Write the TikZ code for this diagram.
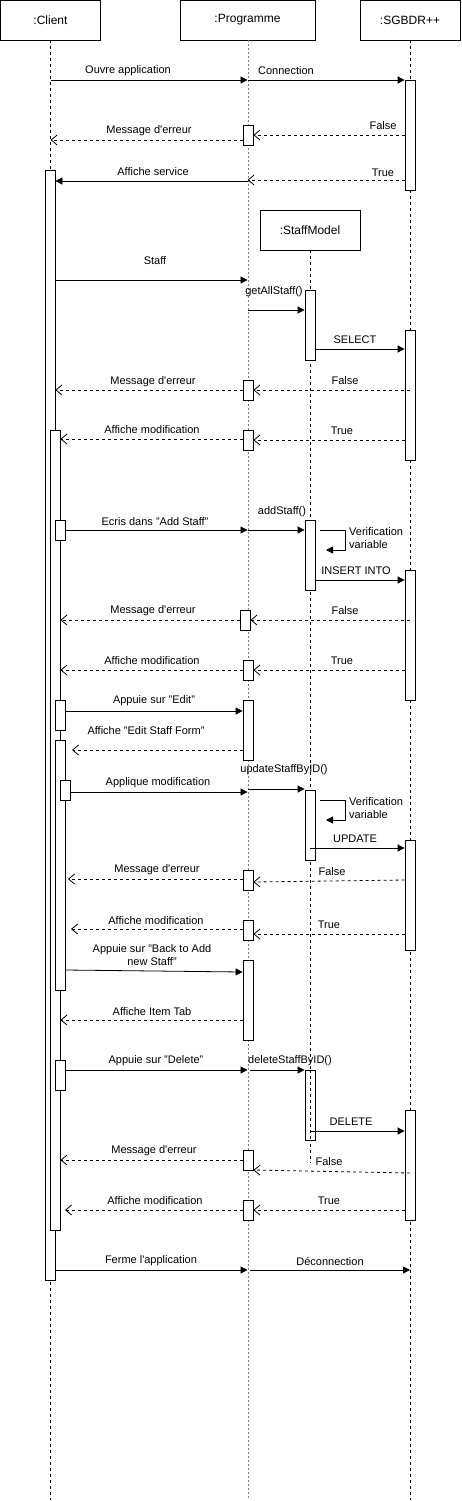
\documentclass[tikz,border=0pt]{standalone}
\usepackage{fontspec}
\setmainfont{Liberation Sans}
\usetikzlibrary{arrows.meta}
\newcommand{\myap}{\textquotesingle}
\begin{document}
\begin{tikzpicture}[x=1pt,y=-1pt,
 font=\fontsize{11}{13}\selectfont,
 actor/.style={draw, line width=0.8pt, fill=white, minimum width=100pt, minimum height=40pt, inner sep=0pt, font=\fontsize{12}{14}\selectfont},
 life/.style={line width=0.8pt, dash pattern=on 3pt off 3pt},
 plife/.style={line width=1pt, draw=gray, dash pattern=on 2pt off 2pt},
 act/.style={draw, line width=0.8pt, fill=white, minimum width=10pt, inner sep=0pt, anchor=north},
 msg/.style={line width=0.8pt, -{Triangle[length=7pt,width=7pt]}},
 ret/.style={line width=0.8pt, dash pattern=on 3pt off 3pt, -{Straight Barb[length=6pt,width=10pt]}},
 lbl/.style={inner sep=0pt},
]
\useasboundingbox (0,0) rectangle (461,1501);
\fill[white] (0,0) rectangle (461,1501);

% header boxes
\node[actor] (client) at (50.5,20) {:Client};
\node[actor, minimum width=135pt] (prog) at (247.5,20) {:Programme};
\node[actor] (sgbd) at (410,20) {:SGBDR++};
\node[actor] (staff) at (310,230) {:StaffModel};

% lifelines
\coordinate (clientend) at (50,1500);
\coordinate (progend) at (248,1500);
\coordinate (sgbdend) at (410,1500);
\coordinate (staffend) at (310,1163);
\draw[life] (client.south -| 50,0) -- (clientend);
\draw[plife] (prog.south -| 248,0) -- (progend);
\draw[life] (sgbd.south) -- (sgbdend);
\draw[life] (staff.south) -- (staffend);

% activations: client
\node[act, minimum height=1110pt] (c0) at (50,170) {};
\node[act, minimum height=800pt] (c1) at (55,430) {};
\node[act, minimum height=20pt] (c2) at (60,520) {};
\node[act, minimum height=30pt] (c3) at (60,700) {};
\node[act, minimum height=250pt] (c4) at (60,740) {};
\node[act, minimum height=20pt] (c5) at (65,780) {};
\node[act, minimum height=30pt] (c6) at (60,1060) {};

% activations: programme
\node[act, minimum height=20pt] (p1) at (248,125) {};
\node[act, minimum height=20pt] (p2) at (248,380) {};
\node[act, minimum height=20pt] (p3) at (248,430) {};
\node[act, minimum height=20pt] (p4) at (245,610) {};
\node[act, minimum height=20pt] (p5) at (248,660) {};
\node[act, minimum height=60pt] (p6) at (248,700) {};
\node[act, minimum height=20pt] (p7) at (248,870) {};
\node[act, minimum height=20pt] (p8) at (248,920) {};
\node[act, minimum height=80pt] (p9) at (248,960) {};
\node[act, minimum height=20pt] (p10) at (248,1150) {};
\node[act, minimum height=20pt] (p11) at (248,1200) {};

% activations: staff model
\node[act, minimum height=70pt] (s1) at (310,290) {};
\node[act, minimum height=70pt] (s2) at (310,520) {};
\node[act, minimum height=70pt] (s3) at (310,790) {};
\node[act, minimum height=70pt] (s4) at (310,1070) {};
\draw[life] (s4.north) -- (s4.south);

% activations: SGBDR
\node[act, minimum height=110pt] (d1) at (410,80) {};
\node[act, minimum height=130pt] (d2) at (410,330) {};
\node[act, minimum height=130pt] (d3) at (410,570) {};
\node[act, minimum height=110pt] (d4) at (410,840) {};
\node[act, minimum height=110pt] (d5) at (410,1110) {};

% messages
\draw[msg] (client |- 0,80) -- (prog |- 0,80);
\node[lbl] (l1) at (128,71) {Ouvre application};
\draw[msg] (prog |- 0,80) -- (d1.west |- 0,80);
\node[lbl] (l2) at (286,71) {Connection};

\draw[ret] (d1.west |- 0,135) -- (p1.east |- 0,135);
\node[lbl] (l3) at (383,126) {False};
\draw[ret] (p1.west |- 0,140) -- (client |- 0,140);
\node[lbl] (l4) at (149,131) {Message d\myap erreur};
\draw[ret] (d1.west |- 0,180) -- (prog |- 0,180);
\node[lbl] (l5) at (383,173) {True};
\draw[msg] (prog |- 0,181) -- (c0.east |- 0,181);
\node[lbl] (l6) at (153,172) {Affiche service};

\draw[msg] (c0.east |- 0,280) -- (prog |- 0,280);
\node[lbl] (l7) at (155,261) {Staff};
\draw[msg] (prog |- 0,310) -- (s1.west |- 0,310);
\node[lbl] (l8) at (274,292) {getAllStaff()};
\draw[msg] (s1.east |- 0,349) -- (d2.west |- 0,349);
\node[lbl] (l9) at (355,340) {SELECT};
\draw[ret] (sgbd |- 0,390) -- (p2.east |- 0,390);
\node[lbl] (l10) at (345,381) {False};
\draw[ret] (p2.west |- 0,390) -- (c0.east |- 0,390);
\node[lbl] (l11) at (153,382) {Message d\myap erreur};
\draw[ret] (d2.west |- 0,440) -- (p3.east |- 0,440);
\node[lbl] (l12) at (342,431) {True};
\draw[ret] (p3.west |- 0,439) -- (c1.east |- 0,439);
\node[lbl] (l13) at (152,430) {Affiche modification};

\draw[msg] (c2.east |- 0,530) -- (prog |- 0,530);
\node[lbl] (l14) at (155,522) {Ecris dans "Add Staff"};
\draw[msg] (prog |- 0,530) -- (s2.west |- 0,530);
\node[lbl] (l15) at (282,512) {addStaff()};
\coordinate (v1a) at (320,530);
\coordinate (v1b) at (326,550);
\draw[msg] (v1a) -- (345,530) -- (345,550) -- (v1b);
\node[lbl, anchor=west, align=left] (l16) at (349,538.5) {Verification\\variable};
\draw[msg] (s2.east |- 0,580) -- (d3.west |- 0,580);
\node[lbl] (l17) at (356,571) {INSERT INTO};
\draw[ret] (sgbd |- 0,620) -- (p4.east |- 0,620);
\node[lbl] (l18) at (345,611) {False};
\draw[ret] (p4.west |- 0,620) -- (c1.east |- 0,620);
\node[lbl] (l19) at (153,611) {Message d\myap erreur};
\draw[ret] (d3.west |- 0,670) -- (p5.east |- 0,670);
\node[lbl] (l20) at (342,661) {True};
\draw[ret] (p5.west |- 0,670) -- (c1.east |- 0,670);
\node[lbl] (l21) at (152,661) {Affiche modification};

\draw[msg] (c3.east |- 0,711) -- (p6.west |- 0,711);
\node[lbl] (l22) at (154,701) {Appuie sur "Edit"};
\draw[ret] (p6.west |- 0,750) -- (72,750);
\node[lbl] (l23) at (146,731) {Affiche "Edit Staff Form"};
\draw[msg] (c5.east |- 0,792) -- (prog |- 0,792);
\node[lbl] (l24) at (158,783) {Applique modification};
\draw[msg] (prog |- 0,789) -- (s3.west |- 0,789);
\node[lbl] (l25) at (284,770) {updateStaffByID()};
\coordinate (v2a) at (320,800);
\coordinate (v2b) at (326,820);
\draw[msg] (v2a) -- (345,800) -- (345,820) -- (v2b);
\node[lbl, anchor=west, align=left] (l26) at (349,808.5) {Verification\\variable};
\draw[msg] (staff |- 0,848) -- (d4.west |- 0,848);
\node[lbl] (l27) at (355,839) {UPDATE};
\draw[ret] (d4.west |- 0,880) -- (p7.east |- 0,882);
\node[lbl] (l28) at (332,872) {False};
\draw[ret] (p7.west |- 0,879) -- (68,879);
\node[lbl] (l29) at (157,870) {Message d\myap erreur};
\draw[ret] (d4.west |- 0,934) -- (p8.east |- 0,934);
\node[lbl] (l30) at (329,925) {True};
\draw[ret] (p8.west |- 0,929) -- (71,929);
\node[lbl] (l31) at (156,921) {Affiche modification};

\draw[msg] (c4.east |- 0,970) -- (p9.west |- 0,972);
\node[lbl, align=center] (l32) at (152,955.5) {Appuie sur "Back to Add\\new Staff"};
\draw[ret] (p9.west |- 0,1020) -- (c1.east |- 0,1020);
\node[lbl] (l33) at (152,1012) {Affiche Item Tab};
\draw[msg] (c6.east |- 0,1070) -- (prog |- 0,1070);
\node[lbl] (l34) at (156,1061) {Appuie sur "Delete"};
\draw[msg] (250,1070) -- (s4.west |- 0,1070);
\node[lbl] (l35) at (290,1061) {deleteStaffByID()};
\draw[msg] (staff |- 0,1131) -- (d5.west |- 0,1131);
\node[lbl] (l36) at (351,1122) {DELETE};
\draw[ret] (p10.west |- 0,1160) -- (c1.east |- 0,1160);
\node[lbl] (l37) at (154,1151) {Message d\myap erreur};
\draw[ret] (sgbd |- 0,1173) -- (p10.east |- 0,1170);
\node[lbl] (l38) at (329,1162) {False};
\draw[ret] (d5.west |- 0,1210) -- (p11.east |- 0,1210);
\node[lbl] (l39) at (329,1201) {True};
\draw[ret] (p11.west |- 0,1210) -- (65,1210);
\node[lbl] (l40) at (155,1201) {Affiche modification};

\draw[msg] (c0.east |- 0,1270) -- (prog |- 0,1270);
\node[lbl] (l41) at (151,1261) {Ferme l\myap application};
\draw[msg] (250,1270) -- (sgbd |- 0,1270);
\node[lbl] (l42) at (330,1261) {Déconnection};
\end{tikzpicture}
\end{document}
